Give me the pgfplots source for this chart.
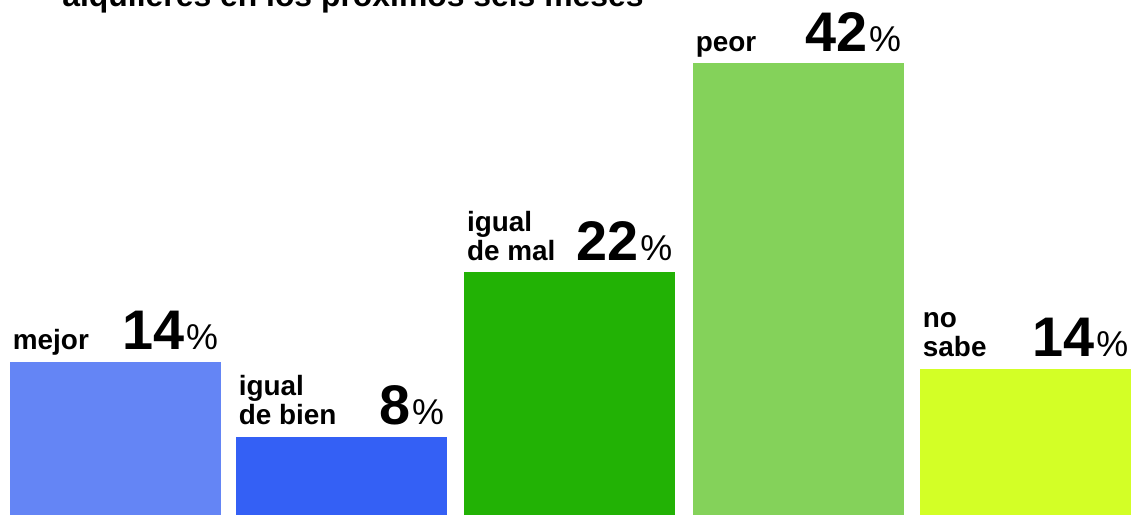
\documentclass[border=0pt]{standalone}
\usepackage{pgfplots}
\pgfplotsset{compat=1.18}
\usepackage{fontspec}
\setmainfont{Liberation Sans}
\definecolor{cA}{HTML}{6485F5}
\definecolor{cB}{HTML}{3460F5}
\definecolor{cC}{HTML}{22B205}
\definecolor{cD}{HTML}{84D25A}
\definecolor{cE}{HTML}{D3FF26}
\newcommand{\lab}{\fontsize{14}{14.5}\selectfont\bfseries}
\newcommand{\num}[1]{{\fontsize{28}{28}\selectfont\bfseries #1}\hspace{1bp}{\fontsize{18}{18}\selectfont\%}}
\begin{document}
\begin{tikzpicture}
\begin{axis}[
  scale only axis,
  width=566bp, height=257.5bp,
  xmin=-0.5077, xmax=4.468,
  ymin=0, ymax=47.86,
  axis lines=none,
  ticks=none,
  clip=false,
]
\addplot[ybar, bar width=105.5bp, bar shift=0pt, fill=cA, draw=none] coordinates {(0,14.22)};
\addplot[ybar, bar width=105.5bp, bar shift=0pt, fill=cB, draw=none] coordinates {(0.993,7.25)};
\addplot[ybar, bar width=105.5bp, bar shift=0pt, fill=cC, draw=none] coordinates {(1.996,22.58)};
\addplot[ybar, bar width=105.5bp, bar shift=0pt, fill=cD, draw=none] coordinates {(3.002,42.0)};
\addplot[ybar, bar width=105.5bp, bar shift=0pt, fill=cE, draw=none] coordinates {(4,13.57)};
% labels
\node[anchor=base west, inner sep=0pt, xshift=-51.5bp, yshift=6bp] at (axis cs:0,14.22) {\lab mejor};
\node[anchor=base east, inner sep=0pt, xshift=51.5bp, yshift=6bp] at (axis cs:0,14.22) {\num{14}};
\node[anchor=base west, inner sep=0pt, xshift=-51.5bp, yshift=20.5bp] at (axis cs:0.993,7.25) {\lab igual};
\node[anchor=base west, inner sep=0pt, xshift=-51.5bp, yshift=6bp] at (axis cs:0.993,7.25) {\lab de bien};
\node[anchor=base east, inner sep=0pt, xshift=51.5bp, yshift=6bp] at (axis cs:0.993,7.25) {\num{8}};
\node[anchor=base west, inner sep=0pt, xshift=-51.5bp, yshift=20.5bp] at (axis cs:1.996,22.58) {\lab igual};
\node[anchor=base west, inner sep=0pt, xshift=-51.5bp, yshift=6bp] at (axis cs:1.996,22.58) {\lab de mal};
\node[anchor=base east, inner sep=0pt, xshift=51.5bp, yshift=6bp] at (axis cs:1.996,22.58) {\num{22}};
\node[anchor=base west, inner sep=0pt, xshift=-51.5bp, yshift=6bp] at (axis cs:3.002,42.0) {\lab peor};
\node[anchor=base east, inner sep=0pt, xshift=51.5bp, yshift=6bp] at (axis cs:3.002,42.0) {\num{42}};
\node[anchor=base west, inner sep=0pt, xshift=-51.5bp, yshift=20.5bp] at (axis cs:4,13.57) {\lab no};
\node[anchor=base west, inner sep=0pt, xshift=-51.5bp, yshift=6bp] at (axis cs:4,13.57) {\lab sabe};
\node[anchor=base east, inner sep=0pt, xshift=51.5bp, yshift=6bp] at (axis cs:4,13.57) {\num{14}};
% title (cut at top as in the reference)
\node[anchor=base west, inner sep=0pt, xshift=31bp, yshift=-3bp] at (rel axis cs:0,1) {\fontsize{16}{16}\selectfont\bfseries alquileres en los próximos seis meses};
\coordinate (ll) at (rel axis cs:0,0);
\coordinate (ur) at (rel axis cs:1,1);
\end{axis}
\pgfresetboundingbox
\path[use as bounding box] (ll) rectangle (ur);
\end{tikzpicture}
\end{document}
